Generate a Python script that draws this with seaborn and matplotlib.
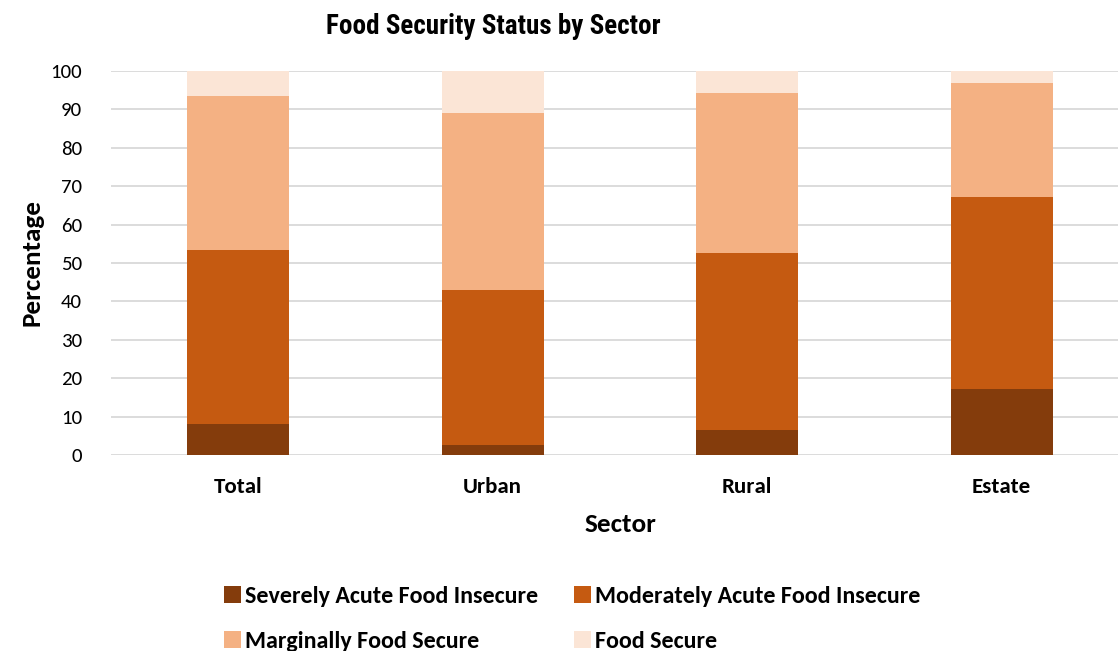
import matplotlib
matplotlib.use("Agg")
import matplotlib.pyplot as plt
import seaborn as sns
import pandas as pd
import numpy as np
from matplotlib.patches import Patch

sectors = ["Total", "Urban", "Rural", "Estate"]
severe = [8.0, 2.6, 6.4, 17.1]
moderate = [45.4, 40.4, 46.3, 50.2]
marginal = [40.0, 46.0, 41.6, 29.7]
secure = [6.6, 11.0, 5.7, 3.0]
series_names = ["Severely Acute Food Insecure", "Moderately Acute Food Insecure",
                "Marginally Food Secure", "Food Secure"]
colors = ["#843C0C", "#C55A11", "#F4B183", "#FBE5D6"]
yticks = [0, 10, 20, 30, 40, 50, 60, 70, 80, 90, 100]

sns.set_theme(style="white")
body = ['Carlito', 'Lato', 'DejaVu Sans']
title_fam = ['Roboto Condensed', 'Archivo Narrow', 'Saira SemiCondensed', 'DejaVu Sans']
plt.rcParams['font.family'] = body
for k in ["text.color", "axes.labelcolor", "xtick.color", "ytick.color"]:
    plt.rcParams[k] = "#000000"

fig = plt.figure(figsize=(11.18, 6.51), dpi=100)
ax = fig.add_axes([111/1118, (651-455)/651, 1 - 111/1118, (455-71)/651])

layers = [severe, moderate, marginal, secure]
cum = np.cumsum(np.array(layers), axis=0)
for i in range(len(layers) - 1, -1, -1):
    df = pd.DataFrame({"Sector": sectors, "Value": cum[i]})
    sns.barplot(data=df, x="Sector", y="Value", color=colors[i], width=0.4,
                saturation=1, ax=ax, zorder=3, linewidth=0)

ax.set_ylim(0, 100)
ax.set_xlim(-0.5, 3.457)
ax.set_yticks(yticks)
ax.set_yticklabels([str(t) for t in yticks])
ax.set_xticks(range(len(sectors)))
ax.set_xticklabels(sectors)
for lbl in ax.get_yticklabels():
    lbl.set_fontsize(15)
for lbl in ax.get_xticklabels():
    lbl.set_fontsize(16.5)
    lbl.set_fontweight("bold")
ax.tick_params(axis="x", length=0, pad=16)
ax.tick_params(axis="y", length=0, pad=21)
ax.yaxis.grid(True, color="#D9D9D9", linewidth=1.3, zorder=0)
ax.set_axisbelow(True)
for s in ax.spines.values():
    s.set_visible(False)
ax.set_xlabel("Sector", fontsize=19.5, fontweight="bold")
ax.xaxis.set_label_coords(0.5055, -0.152)
ax.set_ylabel("Percentage", fontsize=19.5, fontweight="bold", labelpad=5)

fig.text(493/1118, 1 - 26/651, "Food Security Status by Sector",
         ha="center", va="center", fontsize=19.5, fontweight="bold",
         family=title_fam)

handles = [Patch(facecolor=c, edgecolor="none") for c in colors]
order = [0, 2, 1, 3]
fig.legend([handles[i] for i in order], [series_names[i] for i in order],
           ncol=2, loc="center",
           bbox_to_anchor=(572/1118, 1 - 619/651), frameon=False,
           prop={"size": 17.3, "weight": "bold"}, handlelength=0.72,
           handleheight=0.72, handletextpad=0.15, columnspacing=1.5,
           labelspacing=1.0)

fig.savefig("out.png", dpi=100)
